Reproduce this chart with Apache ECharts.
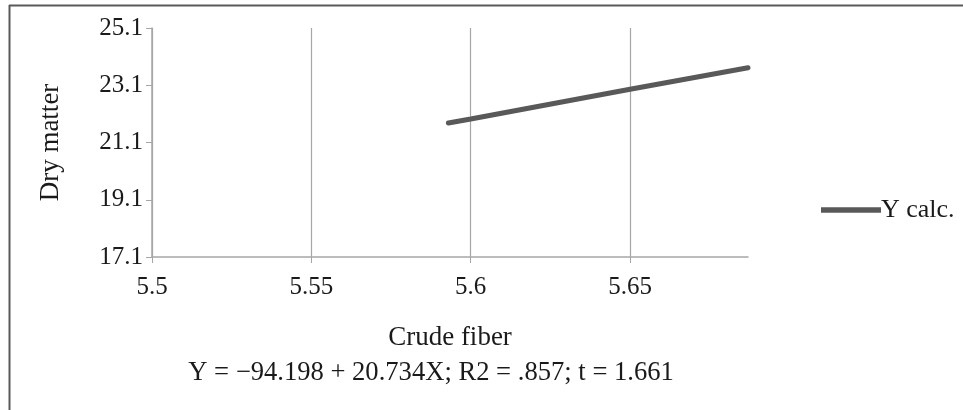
<!DOCTYPE html>
<html>
<head>
<meta charset="utf-8">
<script src="https://cdn.jsdelivr.net/npm/echarts@6/dist/echarts.min.js"></script>
<style>
  html, body { margin: 0; padding: 0; background: #fff; }
  #chart { width: 963px; height: 410px; }
</style>
</head>
<body>
<div id="chart"></div>
<script>
// values
var crudeFiber = [5.593, 5.6, 5.65, 5.687];
var yCalc = [21.78, 21.92, 22.96, 23.71];
var xTicks = [5.5, 5.55, 5.6, 5.65];
var yTicks = [17.1, 19.1, 21.1, 23.1, 25.1];
var seriesName = 'Y calc.';
var formula = 'Y = \u221294.198 + 20.734X; R2 = .857; t = 1.661';

var font = '"Liberation Serif", "Times New Roman", serif';
var myChart = echarts.init(document.getElementById('chart'));

var points = crudeFiber.map(function (x, i) { return [x, yCalc[i]]; });

var option = {
    animation: false,
    backgroundColor: '#fff',
    grid: { left: 152, top: 28, right: 215, bottom: 153 },
    legend: {
        left: 816,
        top: 192,
        itemWidth: 60,
        itemHeight: 14,
        itemGap: 0,
        textStyle: { fontFamily: font, fontSize: 26, color: '#1a1a1a', padding: [0, 0, 0, -5] },
        data: [{ name: seriesName, icon: 'path://M2,4.5 L58,4.5 L58,9.5 L2,9.5 Z' }]
    },
    xAxis: {
        type: 'value',
        min: 5.5,
        max: 5.687,
        name: 'Crude fiber',
        nameLocation: 'middle',
        nameGap: 67,
        nameTextStyle: { fontFamily: font, fontSize: 27, color: '#1a1a1a' },
        axisLine: { lineStyle: { color: '#a6a6a6', width: 1.5 } },
        axisTick: { show: true, length: 6, customValues: xTicks, lineStyle: { color: '#a6a6a6' } },
        axisLabel: { customValues: xTicks, margin: 18, fontFamily: font, fontSize: 25, color: '#1a1a1a' },
        splitLine: { show: true, lineStyle: { color: '#a6a6a6', width: 1.2 } }
    },
    yAxis: {
        type: 'value',
        min: 17.1,
        max: 25.1,
        name: 'Dry matter',
        nameLocation: 'middle',
        nameGap: 88,
        nameTextStyle: { fontFamily: font, fontSize: 27, color: '#1a1a1a' },
        axisLine: { show: true, lineStyle: { color: '#a6a6a6', width: 1.5 } },
        axisTick: { show: true, length: 6, customValues: yTicks, lineStyle: { color: '#a6a6a6' } },
        axisLabel: { customValues: yTicks, margin: 9, fontFamily: font, fontSize: 25, color: '#1a1a1a' },
        splitLine: { show: false }
    },
    graphic: [
        { type: 'line', shape: { x1: 9, y1: 5.5, x2: 963, y2: 5.5 }, style: { stroke: '#5a5a5a', lineWidth: 2 } },
        { type: 'line', shape: { x1: 9.5, y1: 5, x2: 9.5, y2: 410 }, style: { stroke: '#5a5a5a', lineWidth: 2 } },
        {
            type: 'text', x: 431, y: 373,
            style: {
                text: formula, font: '26.6px ' + font, fill: '#1a1a1a',
                textAlign: 'center', textVerticalAlign: 'middle'
            }
        }
    ],
    series: [{
        name: seriesName,
        type: 'line',
        data: points,
        showSymbol: false,
        smooth: false,
        lineStyle: { color: '#595959', width: 5, cap: 'round' },
        itemStyle: { color: '#595959' }
    }]
};

option && myChart.setOption(option);
window.addEventListener('resize', function () {
    myChart.resize();
});
</script>
</body>
</html>
